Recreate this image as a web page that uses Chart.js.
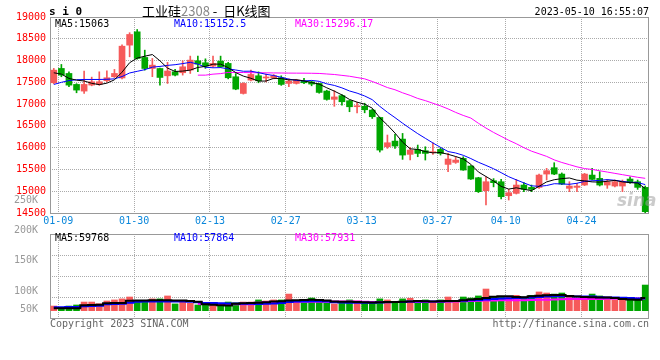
<!DOCTYPE html>
<html><head><meta charset="utf-8">
<script src="https://cdn.jsdelivr.net/npm/chart.js@4.4.0/dist/chart.umd.min.js"></script>
<style>
html,body{margin:0;padding:0;background:#fff;}
#wrap{position:relative;width:660px;height:360px;overflow:hidden;font-family:'DejaVu Sans Mono',monospace;}
canvas{position:absolute;left:0;}
.t{position:absolute;white-space:pre;font-size:10px;line-height:12px;font-family:'DejaVu Sans Mono',monospace;}
</style></head><body>
<div id="wrap">
<canvas id="pc" width="660" height="230" style="top:0;width:660px;height:230px"></canvas>
<canvas id="vc" width="660" height="170" style="top:190px;width:660px;height:170px"></canvas>
<div class="t" style="left:49px;top:5px;font-size:11px;line-height:13px;font-weight:bold;color:#000;">s i 0</div>
<div class="t" style="left:142px;top:2px;font-size:13px;line-height:17px;font-family:'Noto Sans CJK SC',sans-serif;color:#000;">工业硅<span style="color:#888;">2308</span> -  日K线图</div>
<div class="t" id="stamp" style="right:11px;top:6px;color:#000;"></div>
<div class="t" id="pl5" style="left:55px;top:18px;color:#000;"></div>
<div class="t" id="pl10" style="left:174px;top:18px;color:#0000ff;"></div>
<div class="t" id="pl30" style="left:295px;top:18px;color:#ff00ff;"></div>
<div class="t" id="vl5" style="left:55px;top:232px;color:#000;"></div>
<div class="t" id="vl10" style="left:174px;top:232px;color:#0000ff;"></div>
<div class="t" id="vl30" style="left:295px;top:232px;color:#ff00ff;"></div>
<div class="t" style="left:617px;top:190px;font-family:'DejaVu Sans',sans-serif;font-size:17px;line-height:20px;font-style:italic;font-weight:bold;color:rgba(160,160,160,0.55);">sina</div>
<div class="t" style="left:50px;top:318px;color:#666;">Copyright 2023 SINA.COM</div>
<div class="t" style="right:11px;top:318px;color:#666;">http://finance.sina.com.cn</div>
</div>
<script>
const stampText = '2023-05-10 16:55:07';
const dates = ['01-06','01-09','01-10','01-11','01-12','01-13','01-16','01-17','01-18','01-19','01-20','01-30','01-31','02-01','02-02','02-03','02-06','02-07','02-08','02-09','02-10','02-13','02-14','02-15','02-16','02-17','02-20','02-21','02-22','02-23','02-24','02-27','02-28','03-01','03-02','03-03','03-06','03-07','03-08','03-09','03-10','03-13','03-14','03-15','03-16','03-17','03-20','03-21','03-22','03-23','03-24','03-27','03-28','03-29','03-30','03-31','04-03','04-04','04-06','04-07','04-10','04-11','04-12','04-13','04-14','04-17','04-18','04-19','04-20','04-21','04-24','04-25','04-26','04-27','04-28','05-04','05-05','05-08','05-09'];
const xTickLabels = ['01-09','01-30','02-13','02-27','03-13','03-27','04-10','04-24'];
const priceTicks = [14500,15000,15500,16000,16500,17000,17500,18000,18500,19000];
const volTickLabels = ['250K','200K','150K','100K','50K'];
const volTickValues = [250000,200000,150000,100000,50000];

const openP = [17490,17819,17704,17452,17299,17437,17452,17536,17628,17600,18354,18660,18071,17818,17818,17650,17743,17720,17781,17995,17949,17873,17987,17934,17628,17245,17551,17651,17600,17600,17605,17475,17475,17528,17510,17475,17300,17110,17195,17077,16940,16950,16863,16694,16021,16151,16197,15846,15960,15930,15885,15960,15616,15662,15754,15578,15310,15012,15241,15218,14897,14951,15142,15088,15088,15394,15540,15394,15066,15088,15142,15371,15295,15142,15119,15119,15280,15218,15088];
const highP = [17820,17911,17742,17470,17758,17620,17742,17765,17796,18360,18640,18713,18239,18048,17830,17960,17800,17995,18102,18102,18040,18102,18102,17960,17700,17490,17780,17740,17690,17680,17650,17580,17570,17590,17530,17480,17320,17310,17220,17090,17040,17020,16880,16700,16290,16304,16327,16006,16060,16021,16113,15999,15869,15792,15792,15590,15320,15333,15290,15272,15043,15272,15196,15142,15394,15524,15654,15420,15219,15180,15410,15524,15448,15272,15257,15257,15333,15257,15119];
const lowP = [17470,17628,17398,17260,17245,17420,17430,17510,17610,17580,18086,18030,17780,17630,17436,17474,17650,17666,17704,17743,17820,17850,17840,17580,17330,17230,17530,17490,17510,17580,17430,17398,17460,17470,17420,17250,17090,16950,16978,16825,16795,16800,16670,15900,15983,15983,15731,15716,15792,15716,15846,15830,15448,15639,15480,15270,14970,14683,15100,14821,14798,14936,14989,14989,15066,15257,15380,15150,14989,14989,15130,15260,15120,15066,15100,14989,15180,15043,14507];
const closeP = [17780,17666,17436,17322,17452,17513,17513,17605,17704,18330,18599,18048,17818,17895,17612,17760,17666,17857,18010,17918,17873,17934,17857,17605,17345,17475,17681,17536,17612,17651,17452,17528,17551,17490,17460,17268,17108,17165,17054,16939,16960,16870,16710,15945,16113,16037,15830,15945,15868,15868,15895,15868,15739,15716,15486,15280,14989,15218,15196,14874,14966,15142,15043,15043,15371,15471,15394,15165,15119,15119,15394,15272,15142,15218,15218,15218,15195,15088,14530];

const ma5 = [17719,17690,17590,17550,17531,17478,17447,17481,17557,17733,17950,18057,18100,18138,17994,17827,17750,17758,17781,17842,17865,17918,17918,17837,17723,17643,17593,17528,17530,17591,17586,17556,17559,17534,17496,17459,17375,17298,17211,17107,17045,16998,16907,16685,16520,16335,16127,15974,15959,15910,15881,15889,15848,15797,15741,15618,15442,15338,15234,15111,15049,15079,15044,15014,15113,15214,15264,15289,15304,15254,15238,15214,15209,15229,15249,15214,15198,15187,15063];
const ma10 = [17451,17500,17540,17560,17566,17566,17566,17570,17580,17633,17715,17753,17791,17849,17865,17889,17905,17930,17960,17918,17846,17834,17838,17809,17783,17754,17756,17723,17684,17657,17615,17574,17544,17532,17544,17523,17466,17429,17373,17302,17252,17187,17102,16948,16813,16690,16562,16440,16322,16215,16108,16008,15911,15878,15825,15750,15665,15593,15516,15426,15333,15261,15191,15124,15112,15131,15172,15167,15159,15183,15226,15239,15249,15267,15251,15226,15206,15198,15152.5];
const ma30 = [null,null,null,null,null,null,null,null,null,null,null,null,null,null,null,null,null,null,null,17665,17665,17688,17700,17727,17727,17725,17722,17720,17718,17716,17714,17712,17711,17710,17708,17704,17692,17680,17660,17640,17610,17580,17520,17452,17380,17330,17260,17200,17130,17080,17020,16960,16890,16810,16740,16680,16560,16450,16350,16260,16170,16090,16000,15920,15860,15800,15720,15660,15610,15560,15520,15500,15470,15440,15410,15380,15350,15320,15296.17];

const volume = [22000,11000,22000,27000,41000,41000,33000,46000,51000,56000,65000,44000,40000,56000,56000,70000,32000,44000,35000,27000,27000,27000,27000,41000,37000,41000,41000,51000,46000,51000,51000,79000,41000,37000,60000,41000,35000,32000,38000,51000,46000,35000,35000,56000,51000,35000,56000,59000,35000,51000,40000,51000,65000,40000,65000,60000,70000,103000,65000,65000,63000,73000,65000,73000,89000,84000,79000,84000,70000,60000,60000,79000,70000,65000,51000,63000,51000,51000,122000];
const volMa5 = [12000,11000,11000,12000,26000,27000,28000,35000,36000,37000,47000,48000,48000,49000,49000,50000,48000,48000,46000,42000,30000,28000,26000,24000,33000,35000,36000,38000,40000,43000,45000,48000,49000,51000,52000,51000,48000,43000,42000,42000,41000,40000,39000,40000,41000,41000,42000,44000,46000,45000,44000,45000,46000,46000,49000,53000,56000,60000,66000,68000,68000,65000,64000,68000,71000,73000,74000,74000,70000,67000,65000,64000,63000,63000,60000,56000,53000,52000,59768];
const volMa10 = [16000,16000,17000,17000,21000,22000,23000,30000,32000,33000,38000,42000,43000,43000,44000,44000,43000,43000,42000,40000,37000,36000,35000,34000,34000,33000,33000,32000,33000,34000,37000,41000,43000,44000,45000,45000,44000,40000,39000,38000,38000,38000,38000,39000,40000,41000,41000,43000,44000,44000,44000,44000,45000,46000,47000,50000,51000,53000,56000,58000,59000,60000,61000,63000,65000,67000,68000,68000,68000,67000,67000,67000,64000,63000,63000,62000,60000,58000,57864];
const volMa30 = [null,null,null,null,null,null,null,null,null,null,null,null,null,null,null,null,null,null,null,32000,32000,32000,31000,30000,30000,30000,31000,38000,40000,41000,41000,41000,42000,42000,42000,42000,42000,43000,43000,43000,43000,42000,41000,41000,41000,41000,41000,41000,41000,41000,42000,42000,43000,44000,45000,46000,47000,48000,48000,49000,49000,49000,50000,51000,52000,52000,53000,54000,55000,55000,56000,56000,56000,57000,57000,57000,57000,58000,57931];

const N = dates.length;
const RED = '#f65a5a', GREEN = '#00a600';
const colorAt = i => closeP[i] >= openP[i] ? RED : GREEN;
const pts = arr => arr.map((v, i) => ({x: i, y: v}));
const xTickIdx = xTickLabels.map(l => dates.indexOf(l));
const MONO = "'DejaVu Sans Mono', monospace";
Chart.defaults.font.family = MONO;
Chart.defaults.font.size = 10;
Chart.defaults.animation = false;

const last = a => a[a.length - 1];
document.getElementById('stamp').textContent = stampText;
document.getElementById('pl5').textContent = 'MA5:' + last(ma5);
document.getElementById('pl10').textContent = 'MA10:' + last(ma10);
document.getElementById('pl30').textContent = 'MA30:' + last(ma30);
document.getElementById('vl5').textContent = 'MA5:' + last(volMa5);
document.getElementById('vl10').textContent = 'MA10:' + last(volMa10);
document.getElementById('vl30').textContent = 'MA30:' + last(volMa30);

const frame = {
  id: 'frame',
  beforeDatasetsDraw(chart) {
    const {ctx, chartArea: a} = chart;
    ctx.save();
    ctx.strokeStyle = '#999';
    ctx.lineWidth = 1;
    ctx.setLineDash([]);
    ctx.strokeRect(Math.round(a.left) + 0.5, Math.round(a.top) + 0.5, Math.round(a.right - a.left) - 1, Math.round(a.bottom - a.top));
    ctx.restore();
  }
};

const gridCol = '#aaa';
const DASH = [1, 1];
const xAxis = (showLabels, h) => ({
  type: 'linear', min: -0.5, max: N - 0.5, offset: false, bounds: 'ticks',
  afterBuildTicks: s => { s.ticks = xTickIdx.map(i => ({value: i - 0.4})); },
  ticks: { display: showLabels, autoSkip: false, maxRotation: 0, padding: 2, color: '#0a87db',
           callback: (v, i) => xTickLabels[i] },
  grid: { color: gridCol, drawTicks: false, offset: false },
  border: { display: false, dash: DASH },
  afterFit: s => { s.height = h; }
});

new Chart(document.getElementById('pc'), {
  type: 'bar',
  plugins: [frame],
  data: {
    datasets: [
      { type: 'line', data: pts(ma5), borderColor: '#000', borderWidth: 1, pointRadius: 0, order: 0 },
      { type: 'line', data: pts(ma10), borderColor: '#0000ff', borderWidth: 1, pointRadius: 0, order: 0 },
      { type: 'line', data: pts(ma30), borderColor: '#ff00ff', borderWidth: 1, pointRadius: 0, order: 0 },
      { type: 'bar', data: dates.map((d, i) => ({x: i, y: [openP[i], closeP[i]]})),
        backgroundColor: c => colorAt(c.dataIndex), barThickness: 6, grouped: false, minBarLength: 1, borderWidth: 0, order: 1 },
      { type: 'bar', data: dates.map((d, i) => ({x: i, y: [lowP[i], highP[i]]})),
        backgroundColor: c => colorAt(c.dataIndex), barThickness: 1, grouped: false, borderWidth: 0, order: 2 }
    ]
  },
  options: {
    responsive: false, maintainAspectRatio: false,
    layout: { padding: { top: 17, right: 11, left: 0, bottom: 0 } },
    plugins: { legend: { display: false }, tooltip: { enabled: false } },
    scales: {
      x: xAxis(true, 17),
      y: { min: 14500, max: 19000,
           afterBuildTicks: s => { s.ticks = priceTicks.map(v => ({value: v})); },
           ticks: { color: '#ff0000', padding: 4, autoSkip: false, callback: v => String(v) },
           grid: { color: gridCol, drawTicks: false },
           border: { display: false, dash: DASH },
           afterFit: s => { s.width = 50; } }
    }
  }
});

new Chart(document.getElementById('vc'), {
  type: 'bar',
  plugins: [frame],
  data: {
    datasets: [
      { type: 'line', yAxisID: 'yv', data: pts(volMa5), borderColor: '#000', borderWidth: 2, pointRadius: 0, stepped: 'middle', order: 0 },
      { type: 'line', yAxisID: 'yv', data: pts(volMa10), borderColor: '#0000ff', borderWidth: 2, pointRadius: 0, stepped: 'middle', order: 0 },
      { type: 'line', yAxisID: 'yv', data: pts(volMa30), borderColor: '#ff00ff', borderWidth: 2, pointRadius: 0, stepped: 'middle', order: 0 },
      { type: 'bar', yAxisID: 'yv', data: pts(volume), backgroundColor: c => colorAt(c.dataIndex),
        barThickness: 6, grouped: false, borderWidth: 0, order: 1 }
    ]
  },
  options: {
    responsive: false, maintainAspectRatio: false,
    layout: { padding: { top: 44, right: 11, left: 0, bottom: 42 } },
    plugins: { legend: { display: false }, tooltip: { enabled: false } },
    scales: {
      x: xAxis(false, 0),
      yv: { position: 'left', min: -35000, max: 365000,
            afterBuildTicks: s => { const q = (s.max - s.min) / 4; s.ticks = [0,1,2,3,4].map(k => ({value: s.min + k * q})); },
            ticks: { display: false },
            grid: { color: gridCol, drawTicks: false },
            border: { display: false, dash: DASH },
            afterFit: s => { s.width = 0; } },
      yl: { position: 'left', min: 55925, max: 194080,
            afterBuildTicks: s => { const lo = s.min + 0.1 * (s.max - s.min); s.ticks = volTickValues.map(v => ({value: Math.max(v, lo)})); },
            ticks: { color: '#999', padding: 4, autoSkip: false, callback: (v, i) => volTickLabels[i] },
            grid: { display: false },
            border: { display: false },
            afterFit: s => { s.width = 50; } }
    }
  }
});
</script>
</body></html>
